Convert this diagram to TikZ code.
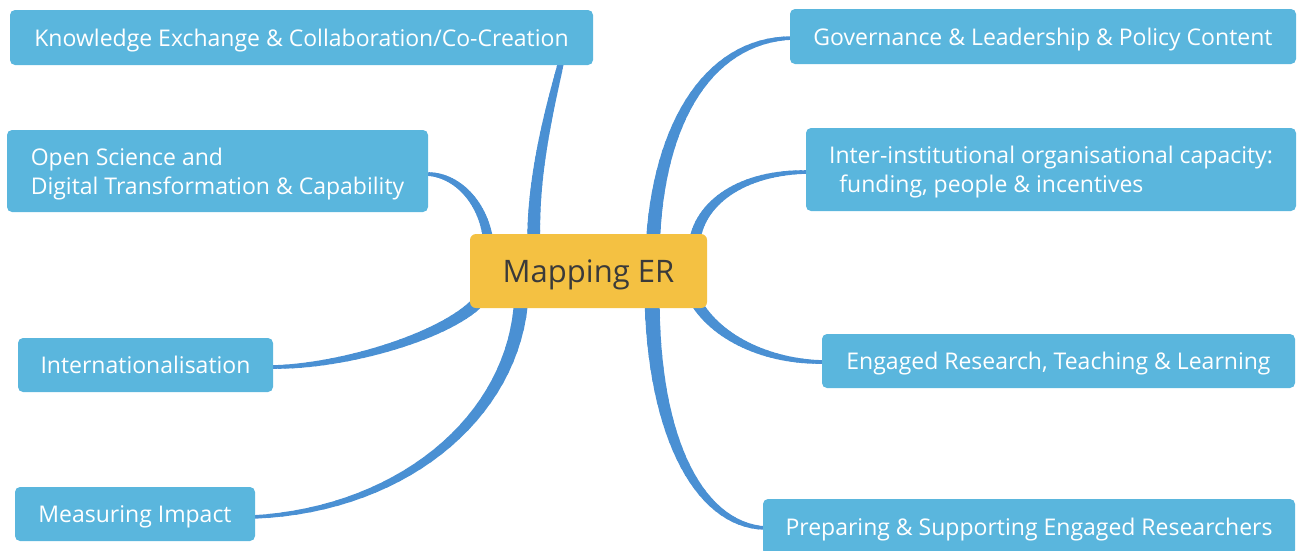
\documentclass[tikz,border=0pt]{standalone}
\usepackage{fontspec}
\setmainfont{Open Sans}
\usetikzlibrary{calc,backgrounds}
\definecolor{boxblue}{HTML}{5AB6DD}
\definecolor{connblue}{HTML}{4A90D3}
\definecolor{centeryellow}{HTML}{F4C142}
\definecolor{centertext}{HTML}{3A3A3A}
% tapered branch: start, control 1, control 2, end, start width, end width
\newcommand{\taperline}[6]{%
  \path #1 .. controls #2 and #3 .. #4
    \foreach \k in {0,...,30}{ coordinate[pos=\k/30] (tp\k) };
  \foreach \k [evaluate=\k as \j using int(\k-1),
               evaluate=\k as \w using #5+(#6-#5)*(\k-0.5)/30] in {1,...,30}{
    \draw[branch, line width=\w pt] (tp\j) -- (tp\k);
  }}
\begin{document}
\begin{tikzpicture}[x=1pt,y=-1pt,
  topic/.style={fill=boxblue, rounded corners=5pt, text=white, inner sep=0pt,
    font=\fontsize{23}{29}\selectfont, align=center, text depth=0pt},
  centre/.style={fill=centeryellow, rounded corners=6pt, text=centertext, inner sep=0pt,
    font=\fontsize{31}{36}\selectfont, text depth=0pt},
  branch/.style={draw=connblue, line cap=round, line join=round}]
\useasboundingbox (0,0) rectangle (1299,550);

\node[centre, minimum width=237pt, minimum height=74pt] (er) at (588.5,271) {Mapping ER};

\node[topic, minimum width=583pt, minimum height=55pt] (ke) at (301.5,37.5) {Knowledge Exchange \& Collaboration/Co-Creation};
\node[topic, minimum width=421pt, minimum height=82pt, align=left] (os) at (217.5,171) {Open Science and\\Digital Transformation \& Capability};
\node[topic, minimum width=255pt, minimum height=54pt] (intl) at (145.5,365) {Internationalisation};
\node[topic, minimum width=240pt, minimum height=54pt] (mi) at (135,514) {Measuring Impact};

\node[topic, minimum width=506pt, minimum height=55pt] (gov) at (1043,36.5) {Governance \& Leadership \& Policy Content};
\node[topic, minimum width=490pt, minimum height=83pt, align=left] (inter) at (1051,169.5) {Inter-institutional organisational capacity:\\\hspace*{0.45em}funding, people \& incentives};
\node[topic, minimum width=473pt, minimum height=54pt] (erl) at (1058.5,361) {Engaged Research, Teaching \& Learning};
\node[topic, minimum width=532pt, minimum height=56pt] (prep) at (1029,527) {Preparing \& Supporting Engaged Researchers};

\begin{scope}[on background layer]
\taperline{($(er.north west)+(64,4)$)}{(533,170)}{(552,100)}{($(ke.south west)+(551,-2)$)}{13}{6}
\taperline{($(er.north west)+(18,4)$)}{(482,200)}{(455,174)}{($(os.east)+(-2,3)$)}{10}{3.5}
\taperline{($(er.south west)+(6,-4)$)}{(440,338)}{(340,367)}{($(intl.east)+(-2,2)$)}{12}{3.5}
\taperline{($(er.south west)+(51,-3)$)}{(510,420)}{(400,510)}{($(mi.east)+(-2,3)$)}{14}{3.5}
\taperline{($(er.north east)+(-54,4)$)}{(660,120)}{(710,40)}{($(gov.west)+(2,1.5)$)}{14}{3.5}
\taperline{($(er.north east)+(-12,4)$)}{(703,200)}{(745,172)}{($(inter.west)+(2,2.5)$)}{11}{3.5}
\taperline{($(er.south east)+(-10,-4)$)}{(720,340)}{(770,362)}{($(erl.west)+(2,1)$)}{11}{3.5}
\taperline{($(er.south east)+(-55,-3)$)}{(655,440)}{(700,525)}{($(prep.west)+(2,1)$)}{15}{3.5}
\end{scope}
\end{tikzpicture}
\end{document}
